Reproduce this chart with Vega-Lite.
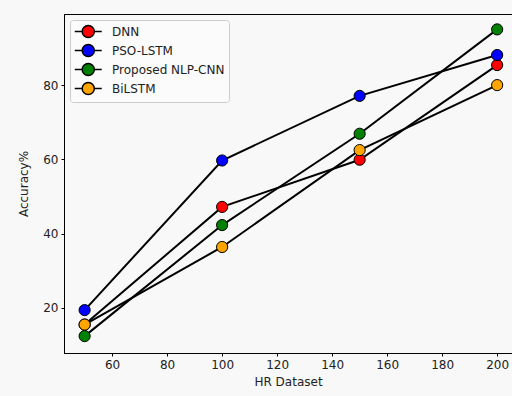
{
  "$schema": "https://vega.github.io/schema/vega-lite/v6.json",
  "width": 448,
  "height": 339,
  "autosize": {"type": "none"},
  "padding": {"left": 64, "top": 14, "right": 0, "bottom": 43},
  "background": "#f8f8f8",
  "config": {
    "view": {"fill": "#f8f8f8", "stroke": "#000000", "strokeWidth": 1},
    "axis": {
      "labelFont": "DejaVu Sans",
      "titleFont": "DejaVu Sans",
      "labelFontSize": 12,
      "titleFontSize": 12,
      "titleFontWeight": "normal",
      "labelColor": "#222222",
      "titleColor": "#222222",
      "domainColor": "#000000",
      "tickColor": "#000000",
      "tickSize": 3,
      "labelPadding": 3,
      "grid": false
    }
  },
  "data": {
    "values": [
      {"model": "DNN", "hr": 50, "acc": 15.5},
      {"model": "DNN", "hr": 100, "acc": 47.2},
      {"model": "DNN", "hr": 150, "acc": 59.9},
      {"model": "DNN", "hr": 200, "acc": 85.4},
      {"model": "PSO-LSTM", "hr": 50, "acc": 19.4},
      {"model": "PSO-LSTM", "hr": 100, "acc": 59.7},
      {"model": "PSO-LSTM", "hr": 150, "acc": 77.1},
      {"model": "PSO-LSTM", "hr": 200, "acc": 88.1},
      {"model": "Proposed NLP-CNN", "hr": 50, "acc": 12.4},
      {"model": "Proposed NLP-CNN", "hr": 100, "acc": 42.3},
      {"model": "Proposed NLP-CNN", "hr": 150, "acc": 66.9},
      {"model": "Proposed NLP-CNN", "hr": 200, "acc": 95.0},
      {"model": "BiLSTM", "hr": 50, "acc": 15.5},
      {"model": "BiLSTM", "hr": 100, "acc": 36.4},
      {"model": "BiLSTM", "hr": 150, "acc": 62.5},
      {"model": "BiLSTM", "hr": 200, "acc": 80.0}
    ]
  },
  "encoding": {
    "x": {
      "field": "hr",
      "type": "quantitative",
      "scale": {"domain": [42.5, 205.4], "nice": false, "zero": false},
      "axis": {"values": [60, 80, 100, 120, 140, 160, 180, 200], "title": "HR Dataset", "titlePadding": 6}
    },
    "y": {
      "field": "acc",
      "type": "quantitative",
      "scale": {"domain": [7.85, 99.15], "nice": false, "zero": false},
      "axis": {"values": [20, 40, 60, 80], "title": "Accuracy%", "titlePadding": 12}
    }
  },
  "layer": [
    {
      "mark": {"type": "line", "color": "#000000", "strokeWidth": 2},
      "encoding": {"detail": {"field": "model"}}
    },
    {
      "mark": {"type": "point", "filled": true, "opacity": 1, "size": 125, "stroke": "#000000", "strokeWidth": 1},
      "encoding": {
        "color": {
          "field": "model",
          "type": "nominal",
          "scale": {
            "domain": ["DNN", "PSO-LSTM", "Proposed NLP-CNN", "BiLSTM"],
            "range": ["#ff0000", "#0000ff", "#008000", "#ffa500"]
          },
          "legend": {
            "title": null,
            "orient": "top-left",
            "offset": 6,
            "padding": 4,
            "strokeColor": "#cccccc",
            "fillColor": "#fbfbfb",
            "cornerRadius": 3,
            "labelFont": "DejaVu Sans",
            "labelFontSize": 12,
            "labelColor": "#222222",
            "symbolType": "M-1,0L0.1,0M1.9,0L3,0M0.1,0A0.9,0.9 0 1,1 1.9,0A0.9,0.9 0 1,1 0.1,0Z",
            "symbolSize": 182,
            "symbolStrokeColor": "#000000",
            "symbolStrokeWidth": 1.5,
            "symbolOpacity": 1,
            "labelOffset": 23,
            "rowPadding": 0
          }
        }
      }
    }
  ]
}
